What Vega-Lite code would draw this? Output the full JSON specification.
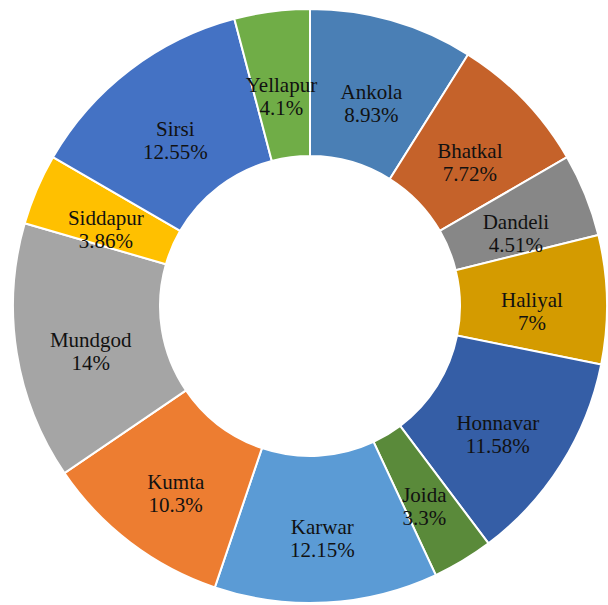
{
  "$schema": "https://vega.github.io/schema/vega-lite/v6.json",
  "width": 620,
  "height": 612,
  "autosize": "none",
  "padding": 0,
  "background": "white",
  "data": {"values": [
    {"taluk": "Ankola", "pct": 8.93, "ord": 1},
    {"taluk": "Bhatkal", "pct": 7.72, "ord": 2},
    {"taluk": "Dandeli", "pct": 4.51, "ord": 3},
    {"taluk": "Haliyal", "pct": 7, "ord": 4},
    {"taluk": "Honnavar", "pct": 11.58, "ord": 5},
    {"taluk": "Joida", "pct": 3.3, "ord": 6},
    {"taluk": "Karwar", "pct": 12.15, "ord": 7},
    {"taluk": "Kumta", "pct": 10.3, "ord": 8},
    {"taluk": "Mundgod", "pct": 14, "ord": 9},
    {"taluk": "Siddapur", "pct": 3.86, "ord": 10},
    {"taluk": "Sirsi", "pct": 12.55, "ord": 11},
    {"taluk": "Yellapur", "pct": 4.1, "ord": 12}
  ]},
  "transform": [
    {"calculate": "[datum.taluk, datum.pct + '%']", "as": "label"}
  ],
  "encoding": {
    "theta": {"field": "pct", "type": "quantitative", "stack": true},
    "order": {"field": "ord", "type": "quantitative"}
  },
  "layer": [
    {
      "mark": {"type": "arc", "outerRadius": 297, "innerRadius": 150, "stroke": "white", "strokeWidth": 2},
      "encoding": {
        "color": {
          "field": "taluk", "type": "nominal", "legend": null,
          "scale": {
            "domain": ["Ankola","Bhatkal","Dandeli","Haliyal","Honnavar","Joida","Karwar","Kumta","Mundgod","Siddapur","Sirsi","Yellapur"],
            "range": ["#4a7fb5","#c5622a","#878787","#d49b00","#355ea6","#5a8a3a","#5b9bd5","#ed7d31","#a5a5a5","#ffc000","#4472c4","#70ad47"]
          }
        }
      }
    },
    {
      "mark": {"type": "text", "radius": 222, "font": "Liberation Serif", "fontSize": 21, "color": "#111111", "align": "center", "baseline": "middle", "lineHeight": 23},
      "encoding": {
        "text": {"field": "label"}
      }
    }
  ]
}
